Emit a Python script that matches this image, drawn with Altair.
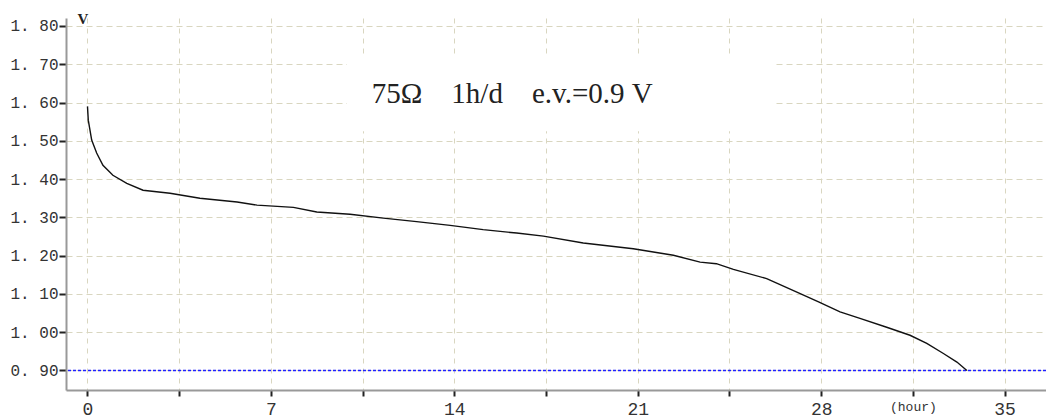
import altair as alt
import pandas as pd

# --- data ---
hours = [0, 0.03, 0.16, 0.35, 0.59, 0.97, 1.5, 2.12, 3.15, 4.29, 5.71, 6.47,
         7.86, 8.75, 10.02, 11.29, 12.56, 13.84, 15.1, 16.38, 17.4, 18.92,
         20.83, 22.36, 23.38, 24.0, 24.65, 25.92, 27.2, 27.9, 28.72, 29.48,
         30.5, 31.39, 32.03, 32.65, 33.18, 33.56]
volts = [1.59, 1.554, 1.502, 1.468, 1.436, 1.41, 1.389, 1.371, 1.363, 1.35,
         1.34, 1.332, 1.326, 1.314, 1.308, 1.298, 1.289, 1.279, 1.268, 1.259,
         1.251, 1.233, 1.218, 1.201, 1.183, 1.179, 1.164, 1.14, 1.101, 1.079,
         1.053, 1.036, 1.013, 0.992, 0.971, 0.945, 0.922, 0.90]

y_ticks = [0.9, 1.0, 1.1, 1.2, 1.3, 1.4, 1.5, 1.6, 1.7, 1.8]
x_ticks = [0, 3.5, 7, 10.5, 14, 17.5, 21, 24.5, 28, 31.5, 35]
end_voltage = [0.9]
note_text = "75\u03a9\u00a0\u00a0\u00a0\u00a01h/d\u00a0\u00a0\u00a0\u00a0e.v.=0.9\u00a0V"

# annotation placement (data units)
note_box = {"x": 9.9, "x2": 26.16, "y": 1.5253, "y2": 1.7216}
note_pos = {"x": 10.85, "y": 1.5986}

X_DOMAIN = [-0.82, 36.58]
Y_DOMAIN = [0.849, 1.8209]

df = pd.DataFrame({"hour": hours, "volt": volts})

grid_color = "#d9d6c0"

x_scale = alt.Scale(domain=X_DOMAIN, nice=False, zero=False)
y_scale = alt.Scale(domain=Y_DOMAIN, nice=False, zero=False)

x_axis = alt.Axis(
    values=x_ticks,
    labelExpr="datum.value == 31.5 ? '(hour)' : (datum.value % 7 == 0 ? '' + datum.value : '')",
    labelFont="Liberation Mono",
    labelFontSize={"condition": {"test": "datum.value == 31.5", "value": 13}, "value": 18},
    labelColor="#333333",
    labelPadding=4,
    labelFlush=False,
    tickSize=6,
    tickColor="#222222",
    tickWidth=2,
    domainColor="#999999",
    domainWidth=2,
    grid=True,
    gridColor=grid_color,
    gridDash=[5, 5],
    gridWidth=1,
    title=None,
)

y_axis = alt.Axis(
    values=y_ticks,
    labelExpr="replace(format(datum.value, '.2f'), '.', '. ')",
    labelFont="Liberation Mono",
    labelFontSize=16,
    labelColor="#333333",
    labelPadding=1,
    tickSize=7,
    tickColor="#222222",
    tickWidth=2,
    domainColor="#999999",
    domainWidth=2,
    grid=True,
    gridColor=grid_color,
    gridDash=[6, 4],
    gridWidth=1,
    title="V",
    titleAngle=0,
    titleAlign="left",
    titleBaseline="top",
    titleX=11,
    titleY=-7,
    titleFont="Liberation Serif",
    titleFontSize=15,
    titleFontWeight="bold",
    titleColor="#222222",
)

base_line = alt.Chart(df).mark_line(color="#111111", strokeWidth=1.4).encode(
    x=alt.X("hour:Q", scale=x_scale, axis=x_axis),
    y=alt.Y("volt:Q", scale=y_scale, axis=y_axis),
)

cutoff = alt.Chart(pd.DataFrame({"v": end_voltage})).mark_rule(
    color="#1f1fff", strokeDash=[3, 2], strokeWidth=1.6
).encode(y=alt.Y("v:Q", scale=y_scale))

box = alt.Chart(pd.DataFrame([note_box])).mark_rect(color="white").encode(
    x=alt.X("x:Q", scale=x_scale),
    x2="x2:Q",
    y=alt.Y("y:Q", scale=y_scale),
    y2="y2:Q",
)

note = alt.Chart(pd.DataFrame([{**note_pos, "t": note_text}])).mark_text(
    font="Liberation Serif", fontSize=29, align="left", baseline="alphabetic",
    color="#222222"
).encode(
    x=alt.X("x:Q", scale=x_scale),
    y=alt.Y("y:Q", scale=y_scale),
    text="t:N",
)

chart = alt.layer(box, cutoff, base_line, note).properties(
    width=980,
    height=372,
    autosize=alt.AutoSizeParams(type="none"),
    padding={"left": 58, "top": 10, "right": 0, "bottom": 28},
    background="white",
).configure_view(stroke=None)

chart.save("out.html", embed_options={"renderer": "svg", "actions": False})
